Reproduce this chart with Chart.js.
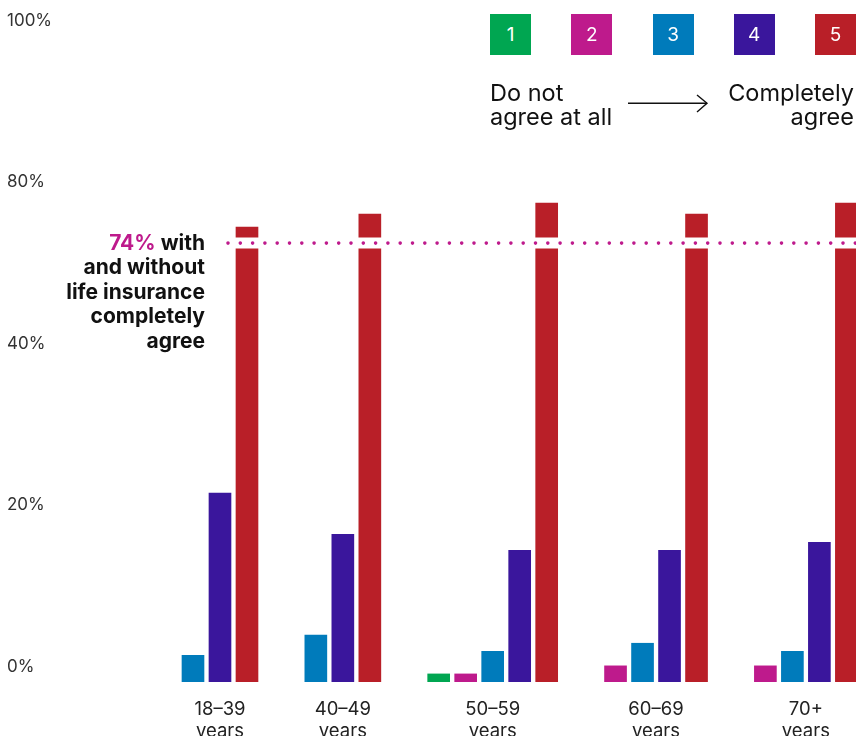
<!DOCTYPE html>
<html>
<head>
<meta charset="utf-8">
<script src="https://cdn.jsdelivr.net/npm/chart.js@4.4.1/dist/chart.umd.min.js"></script>
<style>
  body { margin: 0; background: #fff; font-family: Inter, sans-serif; }
  #wrap { position: relative; width: 856px; height: 736px; overflow: hidden; }
  #wrap canvas { position: absolute; left: 0; top: 0; }
  .key { position: absolute; top: 14px; width: 41px; height: 41px; color: #fff; font-size: 19px; line-height: 41px; text-align: center; }
  .scale-text { position: absolute; top: 81px; font-size: 23.5px; line-height: 24px; color: #111; }
  #note { position: absolute; right: 651px; top: 231px; text-align: right; font-weight: 700; font-size: 21px; line-height: 24.4px; color: #111; white-space: nowrap; }
  #note span { color: #be1a8c; }
</style>
</head>
<body>
<div id="wrap">
  <canvas id="barcanvas" width="856" height="736"></canvas>
  <div id="keys"></div>
  <div class="scale-text" style="left:490px">Do not<br>agree at all</div>
  <svg style="position:absolute;left:620px;top:90px" width="95" height="26">
    <line x1="8" y1="13.3" x2="87" y2="13.3" stroke="#111" stroke-width="1.4"/>
    <polyline points="77,5 87,13.3 77,22" fill="none" stroke="#111" stroke-width="1.4"/>
  </svg>
  <div class="scale-text" style="right:2px;text-align:right">Completely<br>agree</div>
  <div id="note"><span>74%</span> with<br>and without<br>life insurance<br>completely<br>agree</div>
</div>
<script>
// data (share answering 1..5 per age group, %)
var ageGroups = [['18–39', 'years'], ['40–49', 'years'], ['50–59', 'years'], ['60–69', 'years'], ['70+', 'years']];
var seriesNames = ['1', '2', '3', '4', '5'];
var agree1 = [null, null, 1.0, null, null];
var agree2 = [null, null, 1.0, 2.0, 2.0];
var agree3 = [3.3, 5.8, 3.8, 4.8, 3.8];
var agree4 = [23.4, 18.3, 16.3, 16.3, 17.3];
var agree5 = [72.7, 75.9, 78.6, 75.9, 78.6];
var yTickValues = [0, 20, 40, 80, 100];
var refLabel = 74;      // text of the note
var refLineAt = 68.7;   // where the dotted line actually sits on the drawn axis

var colors = ['#00a651', '#be1a8c', '#007bbb', '#3a169c', '#b91f28'];

// the axis is squeezed between 40 and 80 (same spacing as 20 -> 40)
function toAxis(v) { return v <= 40 ? v : (v <= 80 ? 40 + (v - 40) / 2 : 60 + (v - 80)); }
function fromAxis(a) { return a <= 40 ? a : (a <= 60 ? 40 + (a - 40) * 2 : 80 + (a - 60)); }

class BrokenScale extends Chart.LinearScale {
	getPixelForValue(value) {
		var lo = toAxis(this.min), hi = toAxis(this.max);
		return this.getPixelForDecimal((toAxis(value) - lo) / (hi - lo));
	}
	getValueForPixel(pixel) {
		var lo = toAxis(this.min), hi = toAxis(this.max);
		return fromAxis(lo + this.getDecimalForPixel(pixel) * (hi - lo));
	}
}
BrokenScale.id = 'broken';
BrokenScale.defaults = Chart.LinearScale.defaults;
Chart.register(BrokenScale);

// bars are packed: empty answers take no slot
var series = [agree1, agree2, agree3, agree4, agree5];
var groupGap = 2.55;
var slotX = series.map(function() { return []; });
var groupCenters = [];
var pos = 0;
for (var i = 0; i < ageGroups.length; i++) {
	var start = pos;
	for (var k = 0; k < series.length; k++) {
		if (series[k][i] != null) { slotX[k][i] = pos; pos += 1; }
	}
	groupCenters.push((start + pos - 1) / 2);
	pos += groupGap - 1;
}

var datasets = series.map(function(s, k) {
	var pts = [];
	s.forEach(function(v, i) { if (v != null) pts.push({x: slotX[k][i], y: v}); });
	return {
		label: seriesNames[k],
		backgroundColor: colors[k],
		grouped: false,
		barThickness: 22,
		data: pts
	};
});

// legend keys
var keys = document.getElementById('keys');
seriesNames.forEach(function(n, k) {
	var d = document.createElement('div');
	d.className = 'key';
	d.style.left = (490 + k * 81.25) + 'px';
	d.style.background = colors[k];
	d.textContent = n;
	keys.appendChild(d);
});
document.querySelector('#note span').textContent = refLabel + '%';

var refLine = {
	id: 'refLine',
	afterDatasetsDraw: function(chart) {
		var ctx = chart.ctx, area = chart.chartArea;
		var y = chart.scales.y.getPixelForValue(refLineAt);
		ctx.save();
		ctx.strokeStyle = '#fff';
		ctx.lineWidth = 11;
		ctx.beginPath(); ctx.moveTo(224, y); ctx.lineTo(area.right, y); ctx.stroke();
		ctx.strokeStyle = colors[1];
		ctx.lineWidth = 3.6;
		ctx.lineCap = 'round';
		ctx.setLineDash([0, 12.3]);
		ctx.beginPath(); ctx.moveTo(228, y); ctx.lineTo(area.right, y); ctx.stroke();
		ctx.restore();
	}
};

var ctx = document.getElementById('barcanvas');
var barGraph = new Chart(ctx, {
	type: 'bar',
	data: { datasets: datasets },
	plugins: [refLine],
	options: {
		responsive: false,
		animation: false,
		layout: { padding: { top: 36, left: 7, right: 0, bottom: 0 } },
		plugins: { legend: { display: false }, tooltip: { enabled: false } },
		scales: {
			x: {
				type: 'linear',
				offset: false,
				min: -3.444,
				max: 24.556,
				grid: { display: false, drawTicks: false },
				border: { display: false },
				ticks: {
					padding: 16,
					color: '#222',
					font: { family: 'Inter', size: 18.5 },
					callback: function(v, i) { return ageGroups[i]; }
				},
				afterBuildTicks: function(s) { s.ticks = groupCenters.map(function(v) { return {value: v}; }); },
				afterFit: function(s) { s.height = 54; }
			},
			y: {
				type: 'broken',
				min: 0,
				max: 100,
				grid: { display: false, drawTicks: false },
				border: { display: false },
				ticks: {
					crossAlign: 'far',
					labelOffset: -15.5,
					color: '#333',
					font: { family: 'Inter', size: 17 },
					callback: function(v) { return v + '%'; }
				},
				afterBuildTicks: function(s) { s.ticks = yTickValues.map(function(v) { return {value: v}; }); },
				afterFit: function(s) { s.width = 93; }
			}
		}
	}
});
</script>
</body>
</html>
